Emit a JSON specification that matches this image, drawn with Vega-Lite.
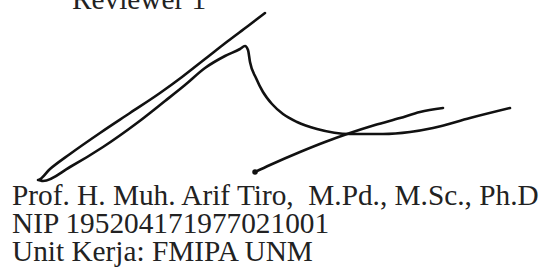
{
  "$schema": "https://vega.github.io/schema/vega-lite/v6.json",
  "width": 544,
  "height": 267,
  "padding": 0,
  "autosize": {"type": "none"},
  "background": "white",
  "config": {"view": {"stroke": null}},
  "datasets": {
    "sig": [
      {"stroke": "a", "i": 1, "x": 265, "y": 13},
      {"stroke": "a", "i": 2, "x": 248, "y": 26},
      {"stroke": "a", "i": 3, "x": 228, "y": 41},
      {"stroke": "a", "i": 4, "x": 205, "y": 59},
      {"stroke": "a", "i": 5, "x": 182, "y": 77},
      {"stroke": "a", "i": 6, "x": 160, "y": 93},
      {"stroke": "a", "i": 7, "x": 130, "y": 113},
      {"stroke": "a", "i": 8, "x": 100, "y": 133},
      {"stroke": "a", "i": 9, "x": 70, "y": 154},
      {"stroke": "a", "i": 10, "x": 50, "y": 169},
      {"stroke": "a", "i": 11, "x": 38, "y": 180},
      {"stroke": "a", "i": 12, "x": 43, "y": 181},
      {"stroke": "a", "i": 13, "x": 70, "y": 167},
      {"stroke": "a", "i": 14, "x": 103, "y": 147},
      {"stroke": "a", "i": 15, "x": 137, "y": 123},
      {"stroke": "a", "i": 16, "x": 165, "y": 101},
      {"stroke": "a", "i": 17, "x": 185, "y": 85},
      {"stroke": "a", "i": 18, "x": 205, "y": 68},
      {"stroke": "a", "i": 19, "x": 225, "y": 56},
      {"stroke": "a", "i": 20, "x": 240, "y": 49},
      {"stroke": "a", "i": 21, "x": 245, "y": 46},
      {"stroke": "a", "i": 22, "x": 248, "y": 50},
      {"stroke": "a", "i": 23, "x": 250, "y": 62},
      {"stroke": "a", "i": 24, "x": 256, "y": 78},
      {"stroke": "a", "i": 25, "x": 263, "y": 92},
      {"stroke": "a", "i": 26, "x": 272, "y": 104},
      {"stroke": "a", "i": 27, "x": 283, "y": 114},
      {"stroke": "a", "i": 28, "x": 297, "y": 122},
      {"stroke": "a", "i": 29, "x": 317, "y": 129},
      {"stroke": "a", "i": 30, "x": 350, "y": 134},
      {"stroke": "a", "i": 31, "x": 383, "y": 134},
      {"stroke": "a", "i": 32, "x": 410, "y": 132},
      {"stroke": "a", "i": 33, "x": 433, "y": 128},
      {"stroke": "a", "i": 34, "x": 470, "y": 118},
      {"stroke": "a", "i": 35, "x": 510, "y": 108},
      {"stroke": "b", "i": 1, "x": 255, "y": 172},
      {"stroke": "b", "i": 2, "x": 270, "y": 165},
      {"stroke": "b", "i": 3, "x": 300, "y": 152},
      {"stroke": "b", "i": 4, "x": 325, "y": 142},
      {"stroke": "b", "i": 5, "x": 350, "y": 133},
      {"stroke": "b", "i": 6, "x": 375, "y": 125},
      {"stroke": "b", "i": 7, "x": 400, "y": 118},
      {"stroke": "b", "i": 8, "x": 420, "y": 112},
      {"stroke": "b", "i": 9, "x": 443, "y": 108}
    ],
    "dot": [{"x": 255, "y": 172}],
    "txt": [
      {"t": "Reviewer 1", "x": 72, "y": 9},
      {"t": "Prof. H. Muh. Arif Tiro,\u00a0 M.Pd., M.Sc., Ph.D", "x": 12, "y": 205},
      {"t": "NIP 195204171977021001", "x": 12, "y": 233},
      {"t": "Unit Kerja: FMIPA UNM", "x": 12, "y": 261}
    ]
  },
  "encoding": {
    "x": {"field": "x", "type": "quantitative", "scale": {"domain": [0, 544], "nice": false, "zero": false}, "axis": null},
    "y": {"field": "y", "type": "quantitative", "scale": {"domain": [0, 267], "nice": false, "zero": false, "reverse": true}, "axis": null}
  },
  "layer": [
    {
      "data": {"name": "txt"},
      "mark": {"type": "text", "align": "left", "baseline": "alphabetic", "font": "Liberation Serif", "fontSize": 29.3, "color": "#222222"},
      "encoding": {"text": {"field": "t"}}
    },
    {
      "data": {"name": "sig"},
      "mark": {"type": "line", "color": "#111111", "strokeWidth": 2.6, "strokeCap": "round", "strokeJoin": "round", "interpolate": "monotone"},
      "encoding": {"detail": {"field": "stroke"}, "order": {"field": "i", "type": "quantitative"}}
    },
    {
      "data": {"name": "dot"},
      "mark": {"type": "point", "filled": true, "color": "#111111", "size": 30, "opacity": 1}
    }
  ]
}
